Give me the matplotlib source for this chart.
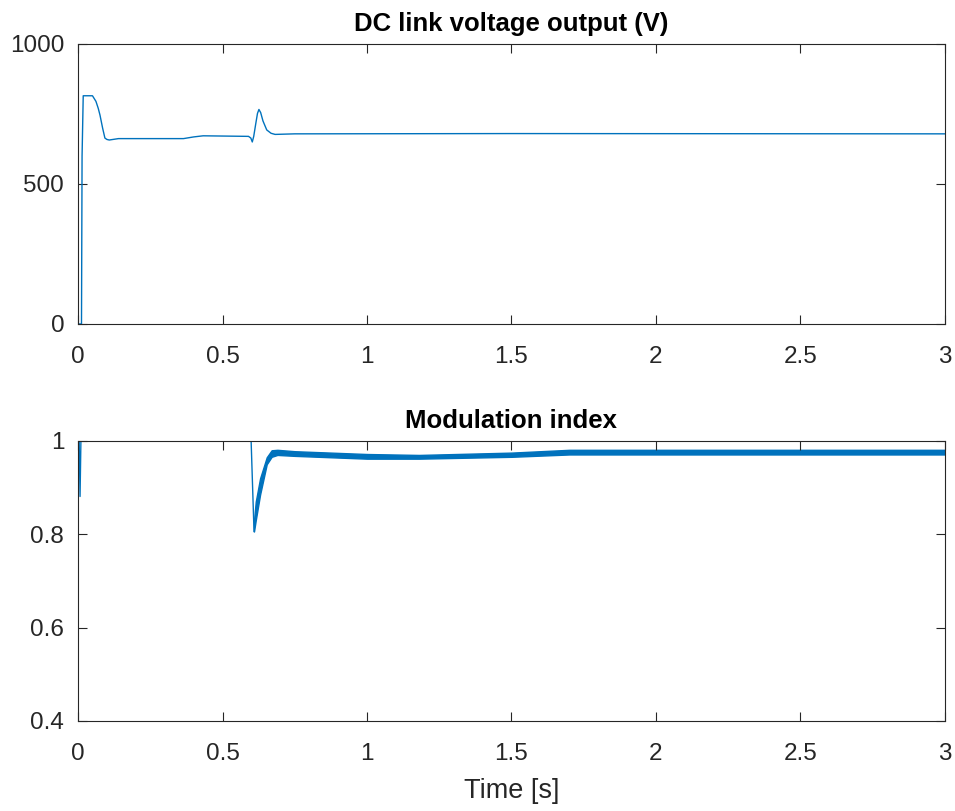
import matplotlib
matplotlib.use('Agg')
import matplotlib.pyplot as plt

# DC link voltage
t_vdc = [0, 0.012, 0.014, 0.018, 0.05, 0.062, 0.07, 0.076, 0.085, 0.093, 0.1, 0.108,
         0.14, 0.365, 0.40, 0.433, 0.59, 0.598, 0.603, 0.608, 0.615, 0.621, 0.626,
         0.632, 0.64, 0.653, 0.668, 0.682, 0.75, 1.5, 3.0]
v_dc = [0, 0, 600, 815, 815, 795, 770, 746, 700, 664, 659, 657,
        662, 662, 668, 672, 670, 664, 650, 670, 715, 752, 766,
        755, 725, 693, 681, 677, 679, 680, 679]

# modulation index, clean part
t_mod = [0, 0.001, 0.004, 0.007, 0.010, 0.599, 0.609]
m_mod = [0.567, 1.0, 1.0, 0.881, 1.0, 1.0, 0.806]

# modulation index, ripple band after the step
t_band = [0.609, 0.615, 0.63, 0.653, 0.67, 0.69, 0.75, 1.0, 1.18, 1.5, 1.7, 2.0, 2.5, 3.0]
m_upper = [0.83, 0.87, 0.92, 0.965, 0.980, 0.981, 0.978, 0.972, 0.970, 0.975, 0.981, 0.981, 0.981, 0.981]
m_lower = [0.806, 0.83, 0.885, 0.950, 0.966, 0.970, 0.968, 0.962, 0.962, 0.966, 0.971, 0.971, 0.971, 0.971]

x_ticks = [0, 0.5, 1, 1.5, 2, 2.5, 3]
x_labels = ['0', '0.5', '1', '1.5', '2', '2.5', '3']

blue = '#0072BD'
axcol = '#262626'

plt.rcParams['font.family'] = ['Liberation Sans', 'DejaVu Sans']


def style(ax):
    ax.tick_params(direction='in', length=6.5, width=0.8, top=True, right=True,
                   labelsize=17.5, colors=axcol)
    ax.tick_params(axis='x', pad=15.5)
    ax.tick_params(axis='y', pad=10)
    for s in ax.spines.values():
        s.set_color(axcol)
        s.set_linewidth(0.8)
    ax.set_xlim(0, 3)
    ax.set_xticks(x_ticks)
    ax.set_xticklabels(x_labels)


def main():
    fig = plt.figure(figsize=(9.55, 8.11), dpi=100)
    ax1 = fig.add_axes([0.0817, 0.6005, 0.9078, 0.3453])
    ax2 = fig.add_axes([0.0817, 0.111, 0.9078, 0.3453])

    ax1.plot(t_vdc, v_dc, color=blue, linewidth=1.0)
    style(ax1)
    ax1.set_ylim(0, 1000)
    ax1.set_yticks([0, 500, 1000])
    ax1.set_title('DC link voltage output (V)', fontsize=18.5, fontweight='bold', pad=9)

    ax2.plot(t_mod, m_mod, color=blue, linewidth=1.0)
    ax2.fill_between(t_band, m_lower, m_upper, color=blue, edgecolor=blue, linewidth=1.0)
    style(ax2)
    ax2.set_ylim(0.4, 1.0)
    ax2.set_yticks([0.4, 0.6, 0.8, 1.0])
    ax2.set_yticklabels(['0.4', '0.6', '0.8', '1'])
    ax2.set_title('Modulation index', fontsize=18.5, fontweight='bold', pad=9)
    ax2.set_xlabel('Time [s]', fontsize=19.5, color=axcol, labelpad=10)

    fig.savefig('out.png', dpi=100)


if __name__ == "__main__":
    main()
